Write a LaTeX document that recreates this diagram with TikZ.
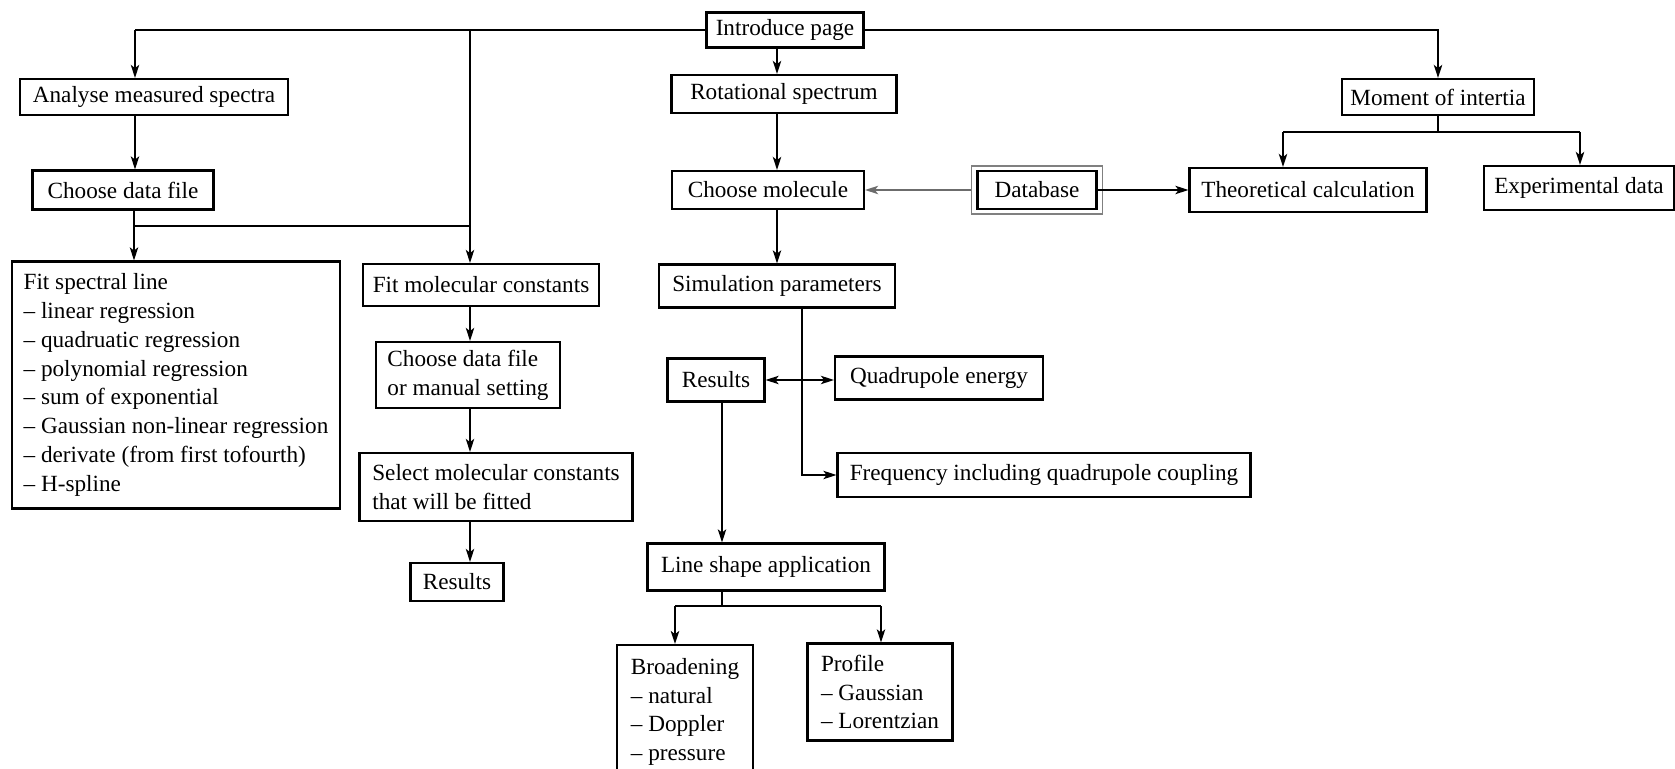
\documentclass[tikz,border=0pt]{standalone}
\usepackage{fontspec}
\setmainfont{Liberation Serif}
\usetikzlibrary{arrows.meta}
\begin{document}
\begin{tikzpicture}[x=0.5pt,y=-0.5pt,
  box/.style={draw, line width=1.1pt, inner sep=2pt, font=\fontsize{11.6}{14.4}\selectfont},
  lbox/.style={box, align=left},
  tip/.tip={Stealth[length=6.5pt,width=4.2pt,inset=1.6pt]},
  arr/.style={line width=0.9pt, -tip},
  arrs/.style={line width=0.9pt, tip-tip},
  ln/.style={line width=0.9pt}]
\useasboundingbox (0,0) rectangle (1675,769);
\clip (0,0) rectangle (1675,769);

% nodes
\node[box, minimum width=78.5pt, minimum height=17.5pt] (intro) at (785,30) {Introduce page};
\node[box, minimum width=134pt, minimum height=18pt] (analyse) at (154,97) {Analyse measured spectra};
\node[box, minimum width=112.5pt, minimum height=19pt] (rot) at (784,94) {Rotational spectrum};
\node[box, minimum width=96pt, minimum height=18pt] (moment) at (1438,97) {Moment of intertia};
\node[box, minimum width=90.5pt, minimum height=19.5pt] (choose1) at (123,190) {Choose data file};
\node[box, minimum width=96pt, minimum height=19pt] (choosemol) at (768,190) {Choose molecule};
\node[draw=gray, line width=0.8pt, minimum width=65.5pt, minimum height=24pt] (dbo) at (1037,190) {};
\node[box, minimum width=59.5pt, minimum height=19pt] (db) at (1037,190) {Database};
\node[box, minimum width=118.5pt, minimum height=22pt] (theo) at (1308,190) {Theoretical calculation};
\node[box, minimum width=95pt, minimum height=22pt] (exp) at (1579,188) {Experimental data};

\node[lbox, minimum width=164pt, minimum height=123.5pt] (fitspec) at (176,385) {Fit spectral line\\
\textendash{} linear regression\\
\textendash{} quadruatic regression\\
\textendash{} polynomial regression\\
\textendash{} sum of exponential\\
\textendash{} Gaussian non-linear regression\\
\textendash{} derivate (from first tofourth)\\
\textendash{} H-spline};
\node[box, minimum width=118pt, minimum height=21pt] (fitmol) at (481,285) {Fit molecular constants};
\node[lbox, minimum width=92pt, minimum height=33pt] (choose2) at (468,375) {Choose data file\\or manual setting};
\node[lbox, minimum width=136.5pt, minimum height=34pt] (select) at (496,487) {Select molecular constants\\that will be fitted};
\node[box, minimum width=46.5pt, minimum height=19pt] (res1) at (457,582) {Results};

\node[box, minimum width=118pt, minimum height=21.5pt] (sim) at (777,286) {Simulation parameters};
\node[box, minimum width=48.5pt, minimum height=21.5pt] (res2) at (716,380) {Results};
\node[box, minimum width=104pt, minimum height=21.5pt] (quad) at (939,378) {Quadrupole energy};
\node[box, minimum width=206.5pt, minimum height=22pt] (freq) at (1044,475) {Frequency including quadrupole coupling};
\node[box, minimum width=118.5pt, minimum height=23.5pt] (lineshape) at (766,567) {Line shape application};
\node[lbox, anchor=north, minimum width=68pt, inner ysep=6.5pt] (broad) at (685,644) {Broadening\\
\textendash{} natural\\
\textendash{} Doppler\\
\textendash{} pressure};
\node[lbox, minimum width=72.5pt, minimum height=48.5pt] (profile) at (880,692) {Profile\\
\textendash{} Gaussian\\
\textendash{} Lorentzian};

% helper coordinates
\coordinate (cA) at (135,30);
\coordinate (cB) at (470,30);
\coordinate (jL) at (134,226);
\coordinate (jR) at (470,226);
\coordinate (colM) at (777,0);
\coordinate (colS) at (802,0);
\coordinate (colR) at (722,0);
\coordinate (mBL) at (1283,132);
\coordinate (mBR) at (1580,132);
\coordinate (lsL) at (675,606);
\coordinate (lsR) at (881,606);

% connectors
\draw[ln] (intro.west) -- (cA);
\draw[arr] (cA) -- (cA |- analyse.north);
\draw[arr] (cB) -- (cB |- fitmol.north);
\draw[arr] (intro.east) -| (moment.north);
\draw[arr] (intro.south -| colM) -- (rot.north -| colM);
\draw[arr] (rot.south -| colM) -- (choosemol.north -| colM);
\draw[arr] (choosemol.south -| colM) -- (sim.north -| colM);
\draw[arr] (analyse.south -| cA) -- (choose1.north -| cA);
\draw[ln] (choose1.south -| jL) -- (jL) -- (jR);
\draw[arr] (jL) -- (jL |- fitspec.north);
\draw[arr] (fitmol.south -| jR) -- (choose2.north -| jR);
\draw[arr] (choose2.south -| jR) -- (select.north -| jR);
\draw[arr] (select.south -| jR) -- (res1.north -| jR);

\draw[ln] (moment.south) -- (moment.south |- mBL);
\draw[ln] (mBL) -- (mBR);
\draw[arr] (mBL) -- (mBL |- theo.north);
\draw[arr] (mBR) -- (mBR |- exp.north);
\draw[arr] (db.east) -- (theo.west);
\draw[arr, draw=gray!85!black] (dbo.west) -- (choosemol.east);

\draw[arr] (sim.south -| colS) |- (freq.west);
\draw[arrs] (res2.east) -- (res2.east -| quad.west);
\draw[arr] (res2.south -| colR) -- (lineshape.north -| colR);
\draw[ln] (lineshape.south -| colR) -- (colR |- lsL);
\draw[ln] (lsL) -- (lsR);
\draw[arr] (lsL) -- (lsL |- broad.north);
\draw[arr] (lsR) -- (lsR |- profile.north);
\end{tikzpicture}
\end{document}
